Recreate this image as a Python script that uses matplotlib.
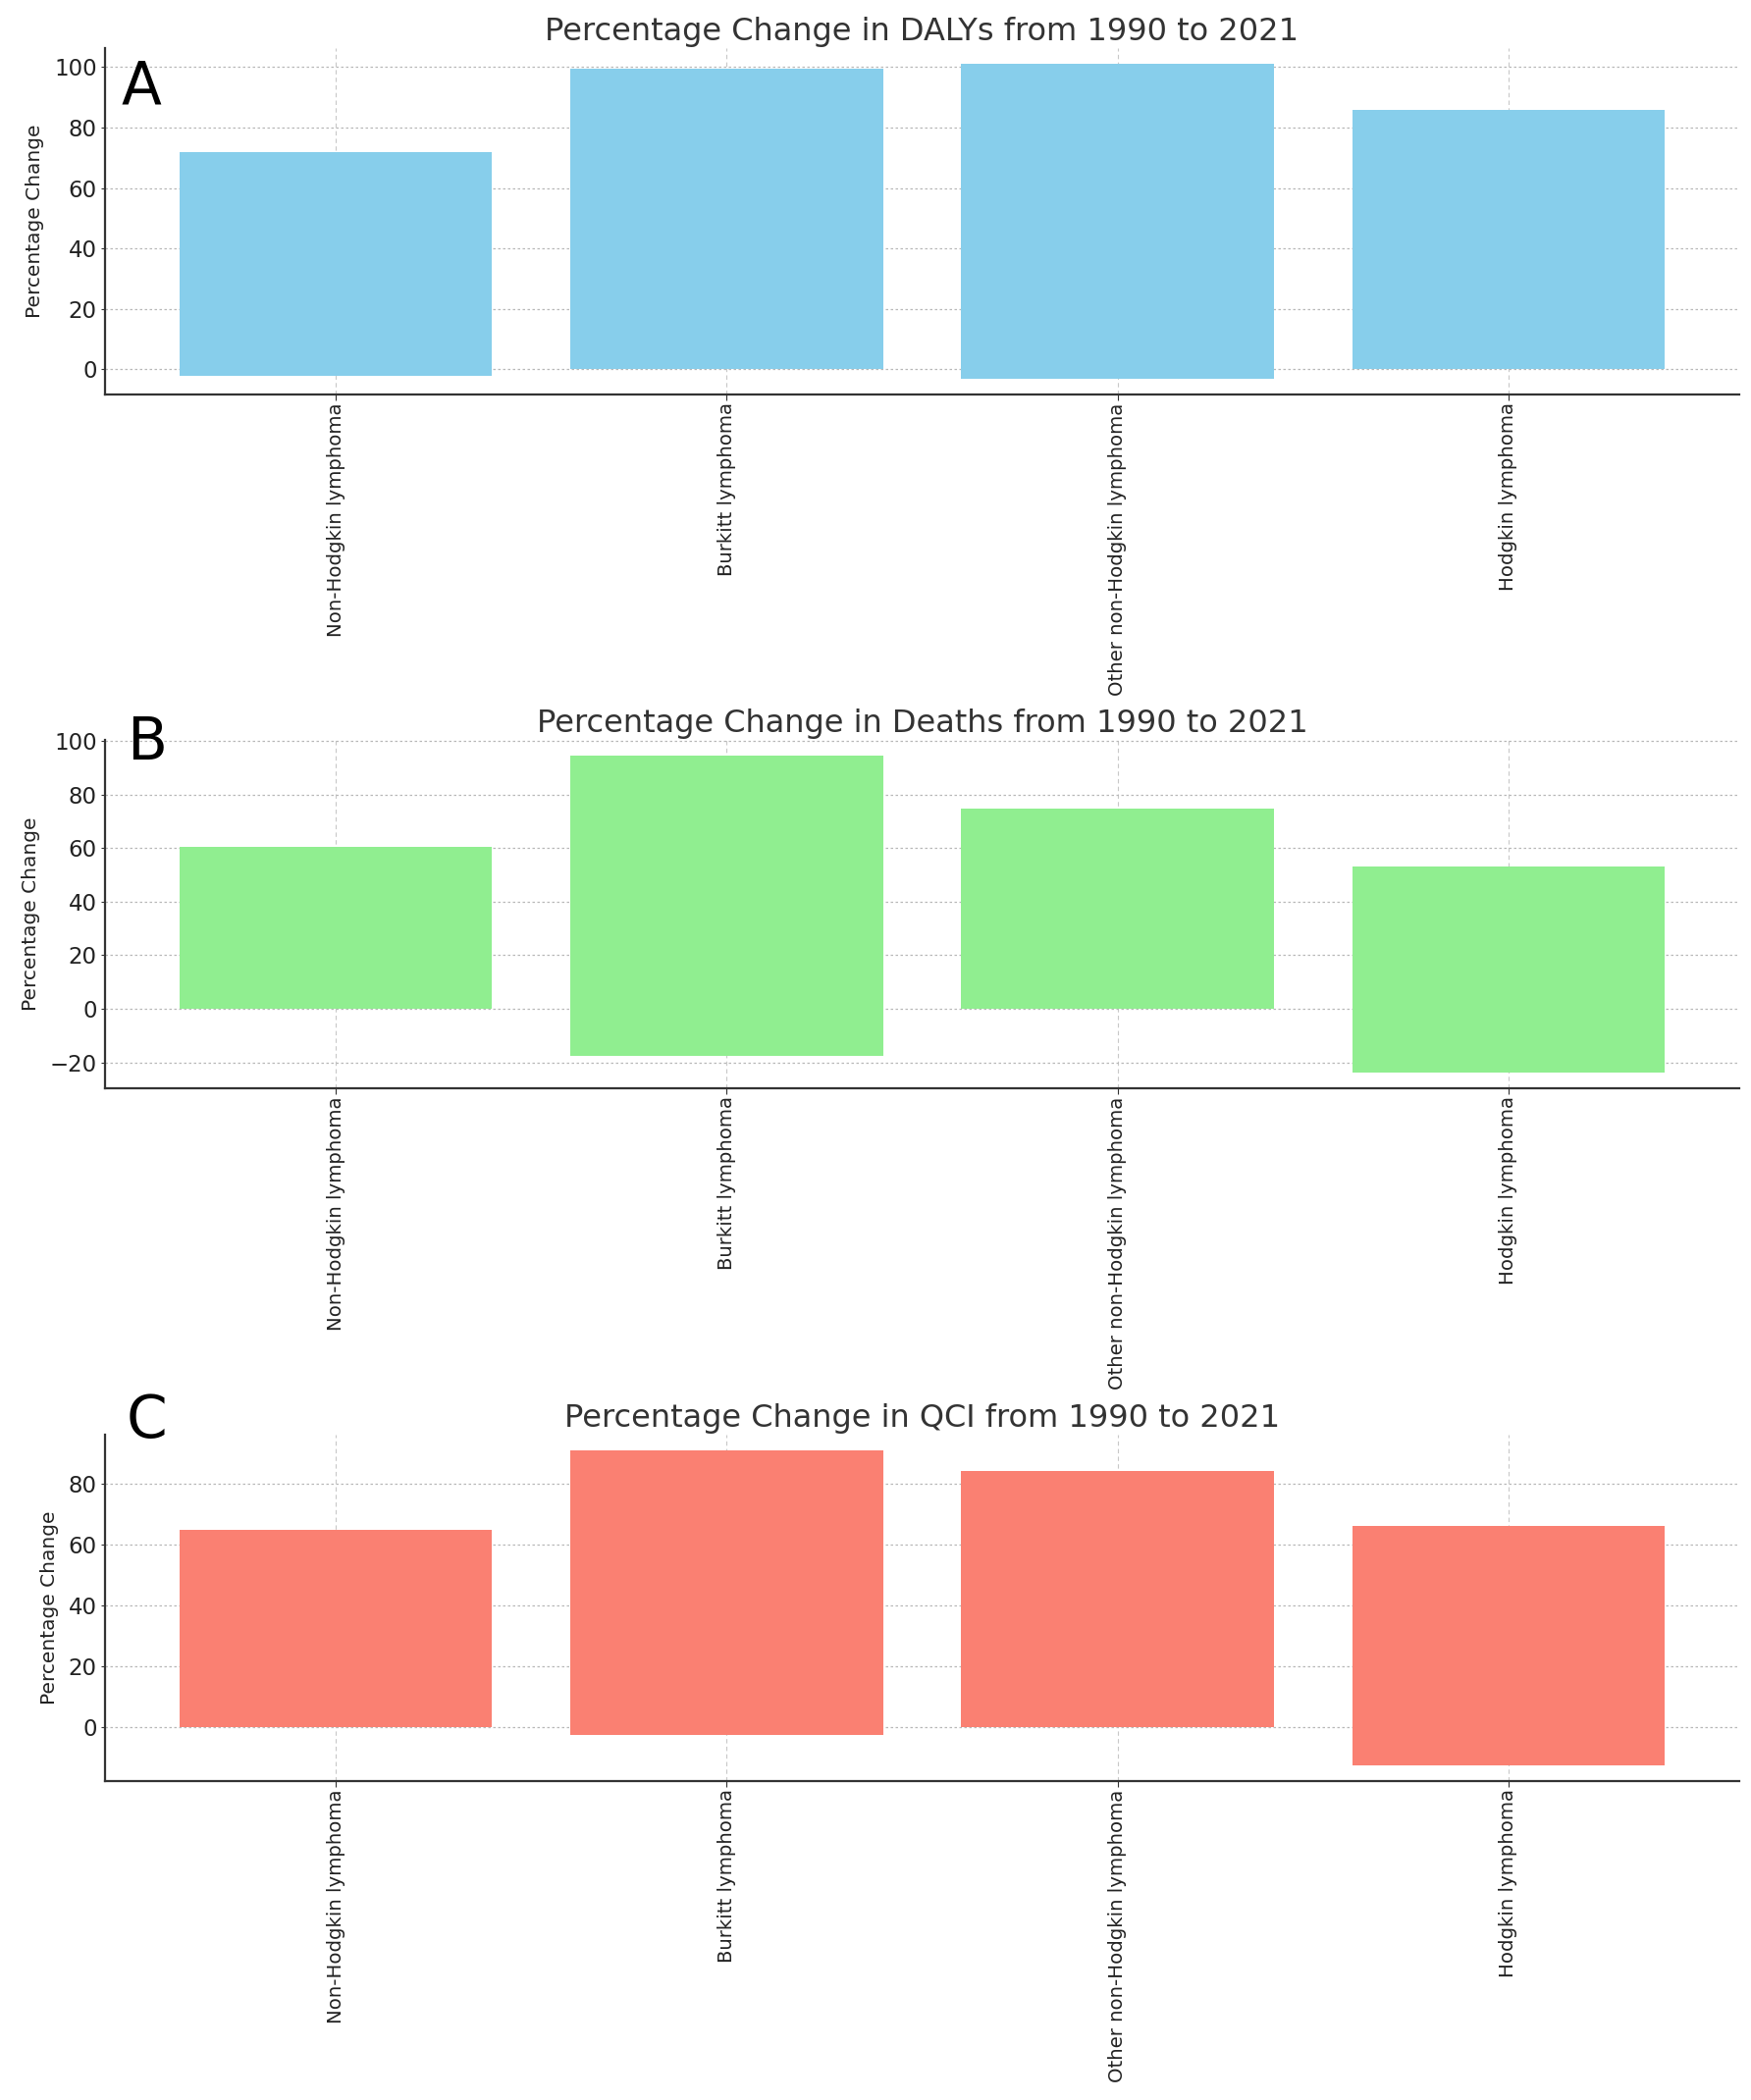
import matplotlib
matplotlib.use('Agg')
import matplotlib.pyplot as plt
import numpy as np

plt.rcParams['font.family'] = ['DejaVu Sans']

# categories (x axis)
categories = ['Non-Hodgkin lymphoma', 'Burkitt lymphoma',
              'Other non-Hodgkin lymphoma', 'Hodgkin lymphoma']

# each bar spans from the lowest to the highest value
dalys_high = [71.8, 99.4, 101.1, 85.8]
dalys_low = [-2.1, 0.0, -3.1, 0.0]

deaths_high = [60.4, 94.6, 75.0, 53.2]
deaths_low = [0.0, -17.6, 0.0, -23.8]

qci_high = [64.7, 91.0, 84.3, 66.2]
qci_low = [0.0, -2.8, 0.0, -12.7]

titles = ['Percentage Change in DALYs from 1990 to 2021',
          'Percentage Change in Deaths from 1990 to 2021',
          'Percentage Change in QCI from 1990 to 2021']
panel_letters = ['A', 'B', 'C']
colors = ['skyblue', 'lightgreen', 'salmon']

W, H = 1784, 2140
fig = plt.figure(figsize=(W / 100, H / 100), dpi=100)
fig.patch.set_facecolor('white')

# axes boxes in pixels: (top, bottom)
boxes = [(49, 402), (754, 1109), (1462, 1815)]
left_px, right_px = 107, 1772
# letter anchors (left x, baseline y) in pixels
letter_pos = [(124, 105), (129, 774), (129, 1465)]

series = [(dalys_high, dalys_low), (deaths_high, deaths_low), (qci_high, qci_low)]
x = np.arange(len(categories))

for i, (high, low) in enumerate(series):
    top, bottom = boxes[i]
    ax = fig.add_axes([left_px / W, 1 - bottom / H,
                       (right_px - left_px) / W, (bottom - top) / H])
    ax.bar(x, high, width=0.8, color=colors[i], zorder=2)
    ax.bar(x, low, width=0.8, color=colors[i], zorder=2)

    ax.set_xticks(x)
    ax.set_xticklabels(categories, rotation=90, fontsize=14.2, color='#222222')
    ax.tick_params(axis='y', labelsize=16.5, labelcolor='#222222',
                   length=3, pad=3, color='#333333')
    ax.tick_params(axis='x', length=4, pad=2, color='#333333')
    ax.set_ylabel('Percentage Change', fontsize=14.5, color='#222222', labelpad=7)
    ax.set_title(titles[i], fontsize=23, color='#333333', pad=6)

    ax.grid(True, axis='y', linestyle=(0, (2, 2)), color='#b8b8b8',
            linewidth=0.9, zorder=0)
    ax.grid(True, axis='x', linestyle=(0, (4, 3)), color='#c8c8c8',
            linewidth=0.8, zorder=0)
    ax.set_axisbelow(True)

    for side in ['top', 'right']:
        ax.spines[side].set_visible(False)
    for side in ['left', 'bottom']:
        ax.spines[side].set_color('#333333')
        ax.spines[side].set_linewidth(1.6)

    lx, ly = letter_pos[i]
    fig.text(lx / W, 1 - ly / H, panel_letters[i], fontsize=43,
             color='black', ha='left', va='baseline')

plt.savefig('out.png', dpi=100, facecolor='white')
plt.close()
